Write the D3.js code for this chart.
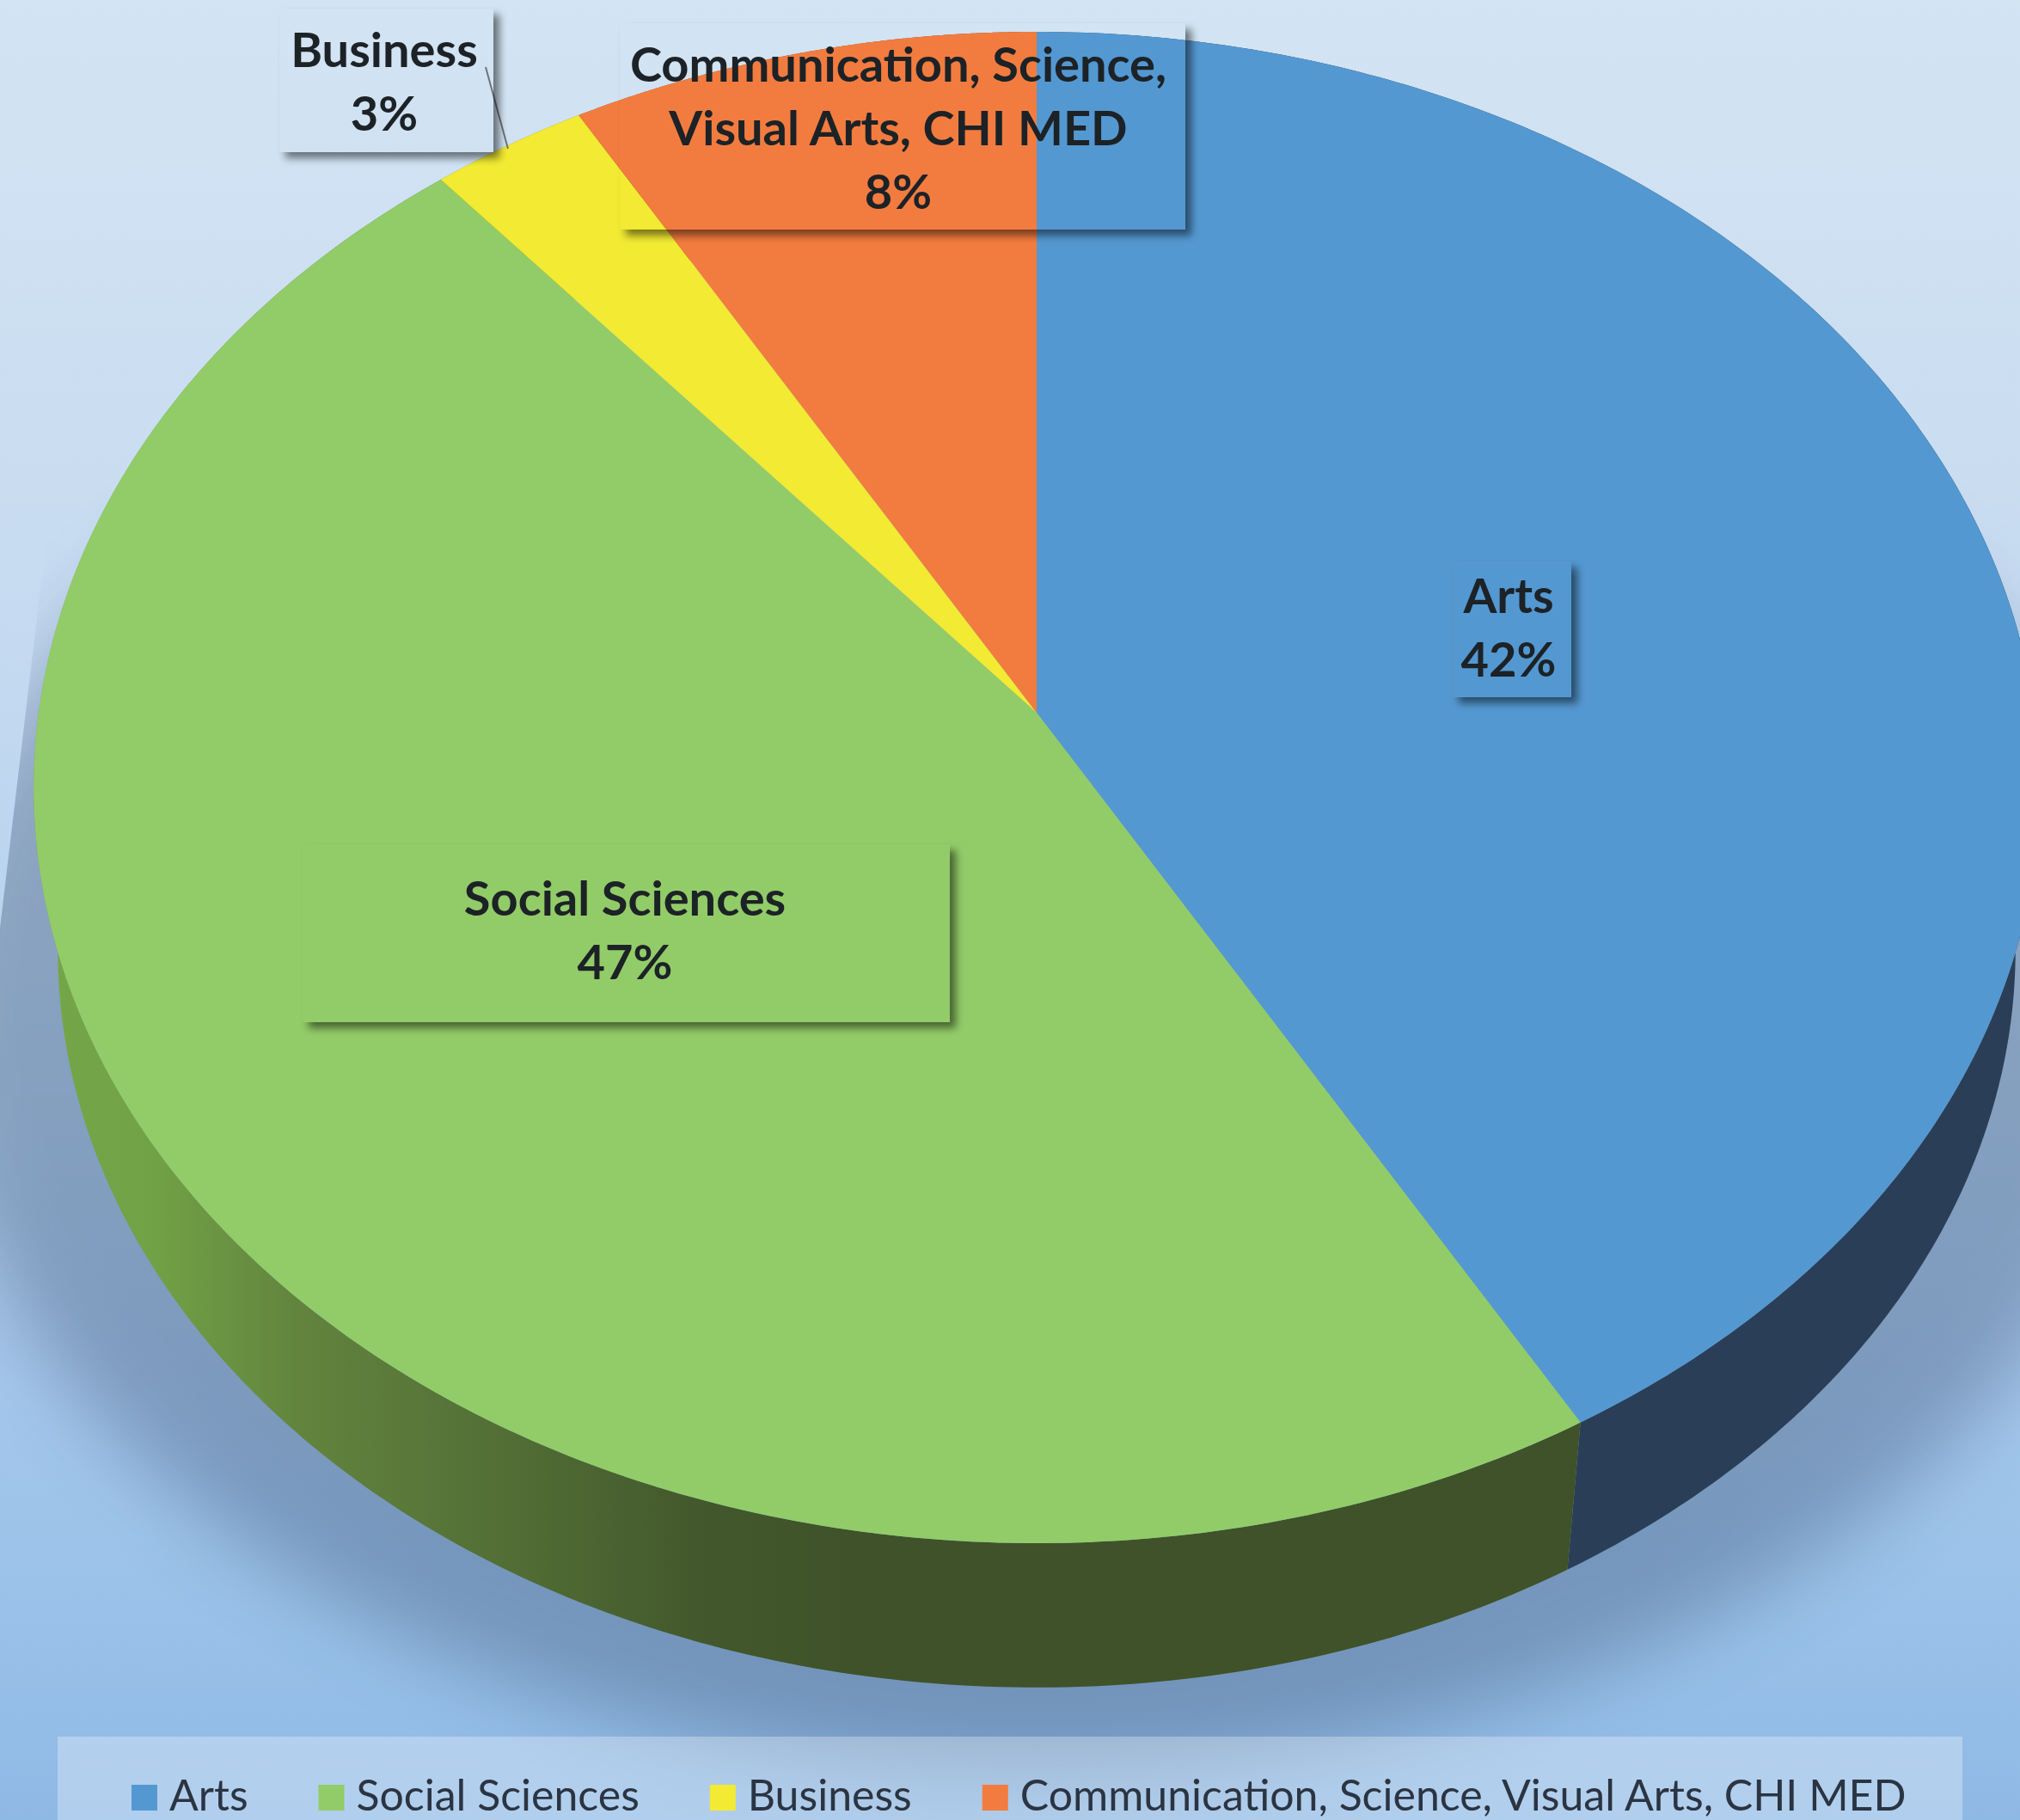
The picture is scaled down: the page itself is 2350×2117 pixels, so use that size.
<!DOCTYPE html>
<html>
<head>
<meta charset="utf-8">
<title>Pie</title>
<script src="https://cdn.jsdelivr.net/npm/d3@7"></script>
<style>
	body { margin: 0; background: #b8d2ee; overflow: hidden; }
	svg { display: block; }
	text { font-family: Lato, "Open Sans", sans-serif; }
</style>
</head>
<body>
<div id="chart"></div>
<script>

var categories  = ["Arts", "Social Sciences", "Business", "Communication, Science, Visual Arts, CHI MED"];
var values      = [41.7, 47.2, 2.8, 8.3];
var sliceColors = ["#5498d1", "#92cc68", "#f2ea33", "#f27c3f"];
var wallColors  = ["#2a3f57", "url(#green-wall)", "#8a8520", "#8a4722"];
var labelLines  = [["Arts"], ["Social Sciences"], ["Business"], ["Communication, Science,", "Visual Arts, CHI MED"]];

var width = 2350, height = 2117;

// the pie is a tilted disc, so the circle goes through a perspective projection
var disc = { cx: 1206, cy: 829, a: 1161, b: 870.4, p: 0.099 };
var depth = { dy: 191, scale: 0.976 };

function project( angle, lower ) {
	var u = Math.sin(angle), v = -Math.cos(angle);
	var w = 1 - disc.p * v;
	var x = disc.a * u / w, y = disc.b * v / w;
	if (lower) {
		return [ disc.cx + x * depth.scale, disc.cy + depth.dy + y * depth.scale ];
	}
	return [ disc.cx + x, disc.cy + y ];
}

function arcPoints( d, lower ) {
	return d3.range(0, 241).map(function(i) {
		return project( d.startAngle + (d.endAngle - d.startAngle) * i / 240, lower );
	});
}

var line = d3.line();

var svg = d3.select("#chart")
	.append("svg")
	.attr("width", width)
	.attr("height", height);

var defs = svg.append("defs");

var bg = defs.append("linearGradient")
	.attr("id", "bg")
	.attr("x1", 0).attr("y1", 0).attr("x2", 0).attr("y2", 1);
[[0, "#d3e4f3"], [0.3, "#c8dcf1"], [0.6, "#b4d0ee"], [0.85, "#9dc3ea"], [1, "#8fb9e5"]].forEach(function(s) {
	bg.append("stop").attr("offset", s[0]).attr("stop-color", s[1]);
});

var wall = defs.append("linearGradient")
	.attr("id", "green-wall")
	.attr("gradientUnits", "userSpaceOnUse")
	.attr("x1", 60).attr("y1", 0).attr("x2", 1000).attr("y2", 0);
[[0, "#74a648"], [0.12, "#72a246"], [0.3, "#62853e"], [0.55, "#536f36"], [0.8, "#43582c"], [1, "#3f5229"]].forEach(function(s) {
	wall.append("stop").attr("offset", s[0]).attr("stop-color", s[1]);
});

defs.append("filter").attr("id", "big-blur")
	.attr("x", "-20%").attr("y", "-20%").attr("width", "140%").attr("height", "140%")
	.append("feGaussianBlur").attr("stdDeviation", 45);

defs.append("filter").attr("id", "small-blur")
	.attr("x", "-10%").attr("y", "-10%").attr("width", "120%").attr("height", "120%")
	.append("feGaussianBlur").attr("stdDeviation", 5);

defs.append("filter").attr("id", "text-blur")
	.attr("x", "-5%").attr("y", "-20%").attr("width", "110%").attr("height", "140%")
	.append("feGaussianBlur").attr("stdDeviation", 0.7);

// the shadow stops dead along a slanted line on the left
defs.append("clipPath").attr("id", "shadow-clip")
	.append("polygon")
	.attr("points", "0,1079 50,660 70,0 2350,0 2350,2117 0,2117");

svg.append("rect")
	.attr("width", width)
	.attr("height", height)
	.attr("fill", "url(#bg)");

svg.append("g")
	.attr("clip-path", "url(#shadow-clip)")
	.append("ellipse")
	.attr("cx", disc.cx)
	.attr("cy", 1180)
	.attr("rx", 1290)
	.attr("ry", 880)
	.attr("fill", "#2f4468")
	.attr("opacity", 0.34)
	.attr("filter", "url(#big-blur)");

var slices = d3.pie().sort(null)( values );

svg.append("g").selectAll("path")
	.data(slices)
	.join("path")
	.attr("d", function(d) {
		return line( arcPoints(d, false).concat( arcPoints(d, true).reverse() ) ) + "Z";
	})
	.attr("fill", function(d, i) { return wallColors[i]; });

svg.append("g").selectAll("path")
	.data(slices)
	.join("path")
	.attr("d", function(d) {
		return line( [[disc.cx, disc.cy]].concat( arcPoints(d, false) ) ) + "Z";
	})
	.attr("fill", function(d, i) { return sliceColors[i]; });

// leader for Business
svg.append("line")
	.attr("x1", 565).attr("y1", 78)
	.attr("x2", 591).attr("y2", 173)
	.attr("stroke", "#6f7478")
	.attr("stroke-width", 2);

// data labels, the boxes are see-through and only their shadow shows
var labelBoxes = [
	{ x: 1690, y: 653, w: 138, h: 158, cx: 1755, base: 713 },
	{ x: 352,  y: 982, w: 753, h: 207, cx: 727,  base: 1065 },
	{ x: 325,  y: 10,  w: 249, h: 167, cx: 447,  base: 78 },
	{ x: 721,  y: 27,  w: 658, h: 240, cx: 1045, base: 95 }
];
var lineStep = 74;

labelBoxes.forEach(function(box, i) {

	var mask = defs.append("mask")
		.attr("id", "box-mask-" + i)
		.attr("maskUnits", "userSpaceOnUse")
		.attr("x", 0).attr("y", 0)
		.attr("width", width).attr("height", height);
	mask.append("rect").attr("width", width).attr("height", height).attr("fill", "white");
	mask.append("rect")
		.attr("x", box.x).attr("y", box.y)
		.attr("width", box.w).attr("height", box.h)
		.attr("fill", "black");

	svg.append("g")
		.attr("mask", "url(#box-mask-" + i + ")")
		.append("rect")
		.attr("x", box.x + 7).attr("y", box.y + 7)
		.attr("width", box.w).attr("height", box.h)
		.attr("fill", "#000")
		.attr("opacity", 0.5)
		.attr("filter", "url(#small-blur)");

	var lines = labelLines[i].concat( [Math.round(values[i]) + "%"] );

	svg.append("g")
		.attr("filter", "url(#text-blur)")
		.selectAll("text")
		.data(lines)
		.join("text")
		.attr("x", box.cx)
		.attr("y", function(d, j) { return box.base + j * lineStep; })
		.attr("text-anchor", "middle")
		.attr("font-size", 56)
		.attr("font-weight", 700)
		.attr("fill", "#1c2127")
		.text(function(d) { return d; });
});

// legend, cut off by the bottom of the picture
svg.append("rect")
	.attr("x", 67).attr("y", 2020)
	.attr("width", 2216).attr("height", 97)
	.attr("fill", "#fff")
	.attr("opacity", 0.3);

var legend = svg.append("g");
var legendX = 153;

categories.forEach(function(name, i) {
	legend.append("rect")
		.attr("x", legendX).attr("y", 2076)
		.attr("width", 30).attr("height", 30)
		.attr("fill", sliceColors[i]);

	var t = legend.append("text")
		.attr("x", legendX + 44)
		.attr("y", 2106)
		.attr("font-size", 50)
		.attr("fill", "#2b3442")
		.text(name);

	legendX += 44 + t.node().getComputedTextLength() + 82;
});

</script>
</body>
</html>
